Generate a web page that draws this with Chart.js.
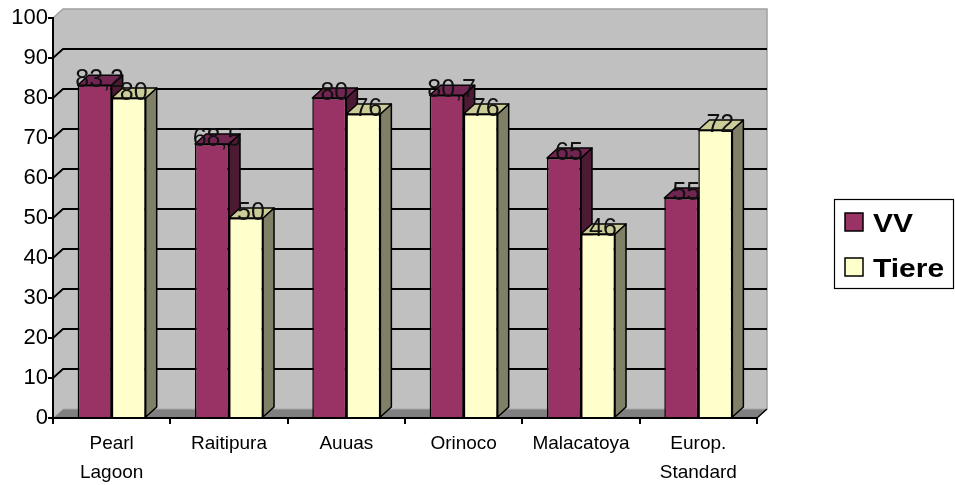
<!DOCTYPE html>
<html>
<head>
<meta charset="utf-8">
<script src="https://cdn.jsdelivr.net/npm/chart.js@4"></script>
<style>
  html, body { margin: 0; padding: 0; background: #fff; }
  canvas { display: block; }
</style>
</head>
<body>
<canvas id="chart" width="955" height="485"></canvas>
<script>
// Categories and series
const categories = [['Pearl', 'Lagoon'], 'Raitipura', 'Auuas', 'Orinoco', 'Malacatoya', ['Europ.', 'Standard']];
const vvValues = [83.2, 68.5, 80, 80.7, 65, 55];
const tiereValues = [80, 50, 76, 76, 46, 72];
const seriesNames = ['VV', 'Tiere'];
const yMin = 0, yMax = 100, yStep = 10;

const FONT = '"Liberation Sans", Arial, sans-serif';

// depth of the walls and of each bar
const WALL_DX = 10, WALL_DY = -9;
const BAR_DX = 11, BAR_DY = -10;

const shades = [
    { front: '#993366', top: '#702650', side: '#4d1a33' },
    { front: '#ffffcc', top: '#cccc99', side: '#808066' }
];

function poly(ctx, pts, fill) {
    ctx.beginPath();
    ctx.moveTo(pts[0][0], pts[0][1]);
    for (let i = 1; i < pts.length; i++) ctx.lineTo(pts[i][0], pts[i][1]);
    ctx.closePath();
    ctx.fillStyle = fill;
    ctx.fill();
    ctx.stroke();
}

// side wall, back wall, floor and gridlines
const wallPlugin = {
    id: 'wall',
    beforeDraw(chart) {
        const { ctx, chartArea: a } = chart;
        const y = chart.scales.y;
        const L = a.left, R = a.right, T = a.top, B = a.bottom;
        ctx.save();
        // back wall
        ctx.fillStyle = '#c0c0c0';
        ctx.fillRect(L + WALL_DX, T + WALL_DY, R - L, B - T);
        // side wall
        ctx.beginPath();
        ctx.moveTo(L, B); ctx.lineTo(L + WALL_DX, B + WALL_DY);
        ctx.lineTo(L + WALL_DX, T + WALL_DY); ctx.lineTo(L, T);
        ctx.closePath();
        ctx.fill();
        // wall edges
        ctx.strokeStyle = '#a0a0a0';
        ctx.lineWidth = 1.5;
        ctx.beginPath();
        ctx.moveTo(L, T); ctx.lineTo(L + WALL_DX, T + WALL_DY);
        ctx.lineTo(R + WALL_DX, T + WALL_DY); ctx.lineTo(R + WALL_DX, B + WALL_DY);
        ctx.stroke();
        // floor
        ctx.fillStyle = '#808080';
        ctx.beginPath();
        ctx.moveTo(L, B); ctx.lineTo(L + WALL_DX, B + WALL_DY);
        ctx.lineTo(R + WALL_DX, B + WALL_DY); ctx.lineTo(R, B);
        ctx.closePath();
        ctx.fill();
        ctx.strokeStyle = '#a8a8a8';
        ctx.lineWidth = 1;
        ctx.beginPath();
        ctx.moveTo(L, B); ctx.lineTo(L + WALL_DX, B + WALL_DY);
        ctx.lineTo(R + WALL_DX, B + WALL_DY);
        ctx.stroke();
        ctx.strokeStyle = '#000';
        ctx.lineWidth = 1.5;
        ctx.beginPath();
        ctx.moveTo(R, B); ctx.lineTo(R + WALL_DX, B + WALL_DY);
        ctx.stroke();
        // gridlines
        ctx.strokeStyle = '#000';
        ctx.lineWidth = 1.8;
        for (let v = yMin + yStep; v < yMax; v += yStep) {
            const py = y.getPixelForValue(v);
            ctx.beginPath();
            ctx.moveTo(L, py);
            ctx.lineTo(L + WALL_DX, py + WALL_DY);
            ctx.lineTo(R + WALL_DX, py + WALL_DY);
            ctx.stroke();
        }
        ctx.restore();
    }
};

// bars as boxes: side and top faces first, then the library's front face,
// series in their own order so the next bar hides the previous one's side
const boxPlugin = {
    id: 'boxes',
    beforeDatasetsDraw(chart) {
        const { ctx } = chart;
        chart.data.datasets.forEach((ds, i) => {
            const meta = chart.getDatasetMeta(i);
            const s = shades[i];
            meta.data.forEach(bar => {
                const l = bar.x - bar.width / 2, r = bar.x + bar.width / 2;
                const t = bar.y, b = bar.base;
                ctx.save();
                ctx.strokeStyle = '#000';
                ctx.lineWidth = 1.5;
                ctx.lineJoin = 'round';
                poly(ctx, [[r, t], [r + BAR_DX, t + BAR_DY], [r + BAR_DX, b + BAR_DY], [r, b]], s.side);
                poly(ctx, [[l, t], [l + BAR_DX, t + BAR_DY], [r + BAR_DX, t + BAR_DY], [r, t]], s.top);
                ctx.restore();
                bar.draw(ctx, chart.chartArea);
            });
        });
        return false;
    },
    afterDraw(chart) {
        const { ctx } = chart;
        ctx.save();
        ctx.font = '25px ' + FONT;
        ctx.fillStyle = '#111';
        ctx.textAlign = 'center';
        ctx.textBaseline = 'alphabetic';
        chart.data.datasets.forEach((ds, i) => {
            chart.getDatasetMeta(i).data.forEach((bar, j) => {
                const txt = String(ds.data[j]).replace('.', ',');
                ctx.fillText(txt, bar.x + 5, bar.y + 2);
            });
        });
        ctx.restore();
    }
};

// boxed legend on the right
const legendPlugin = {
    id: 'boxLegend',
    afterDraw(chart) {
        const { ctx } = chart;
        ctx.save();
        ctx.strokeStyle = '#000';
        ctx.lineWidth = 1.2;
        ctx.strokeRect(834.5, 199.5, 119, 89);
        chart.data.datasets.forEach((ds, i) => {
            const yTop = 213 + i * 45;
            ctx.fillStyle = shades[i].front;
            ctx.fillRect(845, yTop, 18, 18);
            ctx.lineWidth = 1.5;
            ctx.strokeRect(845, yTop, 18, 18);
            ctx.save();
            ctx.translate(873, yTop + 19);
            ctx.scale(1.2, 1);
            ctx.font = 'bold 25px ' + FONT;
            ctx.fillStyle = '#000';
            ctx.fillText(ds.label, 0, 0);
            ctx.restore();
        });
        ctx.restore();
    }
};

new Chart(document.getElementById('chart').getContext('2d'), {
    type: 'bar',
    data: {
        labels: categories,
        datasets: [
            {
                label: seriesNames[0],
                data: vvValues,
                backgroundColor: shades[0].front,
                borderColor: '#000',
                borderWidth: 1.5
            },
            {
                label: seriesNames[1],
                data: tiereValues,
                backgroundColor: shades[1].front,
                borderColor: '#000',
                borderWidth: 1.5
            }
        ]
    },
    options: {
        responsive: false,
        animation: false,
        layout: { padding: { top: 18, right: 198, left: 0, bottom: 0 } },
        datasets: {
            bar: { categoryPercentage: 0.58, barPercentage: 1 }
        },
        plugins: {
            legend: { display: false },
            tooltip: { enabled: false }
        },
        scales: {
            x: {
                afterFit: s => { s.height = 67; },
                grid: { drawOnChartArea: false, offset: true, tickLength: 6, color: '#000', lineWidth: 2 },
                border: { color: '#000', width: 2 },
                ticks: { color: '#000', font: { family: FONT, size: 19, lineHeight: 1.5 }, padding: 6, maxRotation: 0, autoSkip: false }
            },
            y: {
                min: yMin,
                max: yMax,
                afterFit: s => { s.width = 53; },
                grid: { drawOnChartArea: false, tickLength: 5, color: '#000', lineWidth: 2 },
                border: { color: '#000', width: 2 },
                ticks: { stepSize: yStep, color: '#000', font: { family: FONT, size: 22 }, padding: 0 }
            }
        }
    },
    plugins: [wallPlugin, boxPlugin, legendPlugin]
});
</script>
</body>
</html>
